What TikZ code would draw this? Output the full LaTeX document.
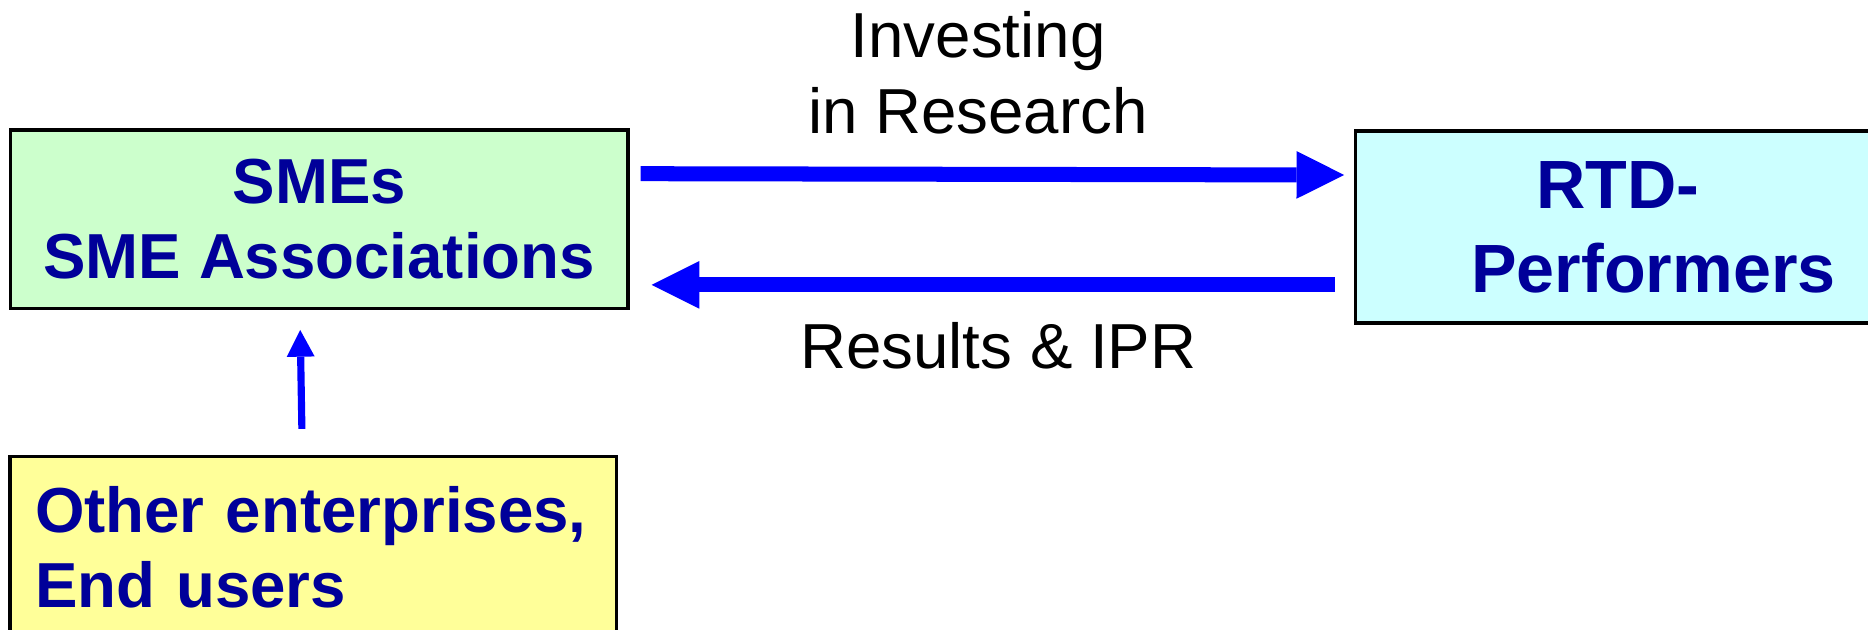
\documentclass[tikz,border=0pt]{standalone}
\usepackage{fontspec}
\setmainfont{Liberation Sans}
\usetikzlibrary{arrows.meta}
\definecolor{txtblue}{HTML}{000099}
\definecolor{arrowblue}{HTML}{0000FF}
\definecolor{smegreen}{HTML}{CCFFCC}
\definecolor{rtdcyan}{HTML}{CCFFFF}
\definecolor{endyellow}{HTML}{FFFF99}
\begin{document}
\begin{tikzpicture}[x=1pt,y=-1pt,
  box/.style={draw=black,line width=2.8pt,inner sep=0pt,text=txtblue},
  boldtxt/.style={font=\fontsize{53.4}{63.5}\selectfont\bfseries},
  lbl/.style={font=\fontsize{53.4}{63.5}\selectfont,inner sep=0pt,text=black},
  flow/.style={draw=arrowblue,line width=12.6pt,-{Triangle[length=40pt,width=40pt,line width=0pt]}},
  thinflow/.style={draw=arrowblue,line width=6pt,-{Triangle[length=22.4pt,width=23.5pt,line width=0pt]}}
]
\useasboundingbox (0,0) rectangle (1568,528.8);
% boxes
\node[box,boldtxt,fill=smegreen,align=center,minimum width=518pt,minimum height=150pt] (sme) at (268,184) {SMEs\\SME Associations};
\node[box,font=\fontsize{57.3}{70.5}\selectfont\bfseries,fill=rtdcyan,align=left,minimum width=500pt,minimum height=161pt] (rtd) at (1388,190.5) {\hspace*{54.4pt}RTD-\\Performers};
\node[box,boldtxt,fill=endyellow,anchor=north west,align=left,inner xsep=21pt,text width=467pt,minimum height=152pt] (oth) at (7,382) {Other enterprises,\\End users};
% labels
\node[lbl,align=center] (inv) at (821,61.2) {Investing\\in Research};
\node[lbl,anchor=base] (res) at (838,309) {Results \& IPR};
% connectors
\draw[flow] ([shift={(9.4,38.2)}]sme.north east) -- ([shift={(-8.3,38.3)}]rtd.north west);
\draw[flow] ([shift={(-16,-33.3)}]rtd.south west) -- ([shift={(18.6,-21.3)}]sme.south east);
\draw[thinflow] ([shift={(-9.5,-22)}]oth.north) -- ([shift={(-16,16.6)}]sme.south);
\end{tikzpicture}
\end{document}
